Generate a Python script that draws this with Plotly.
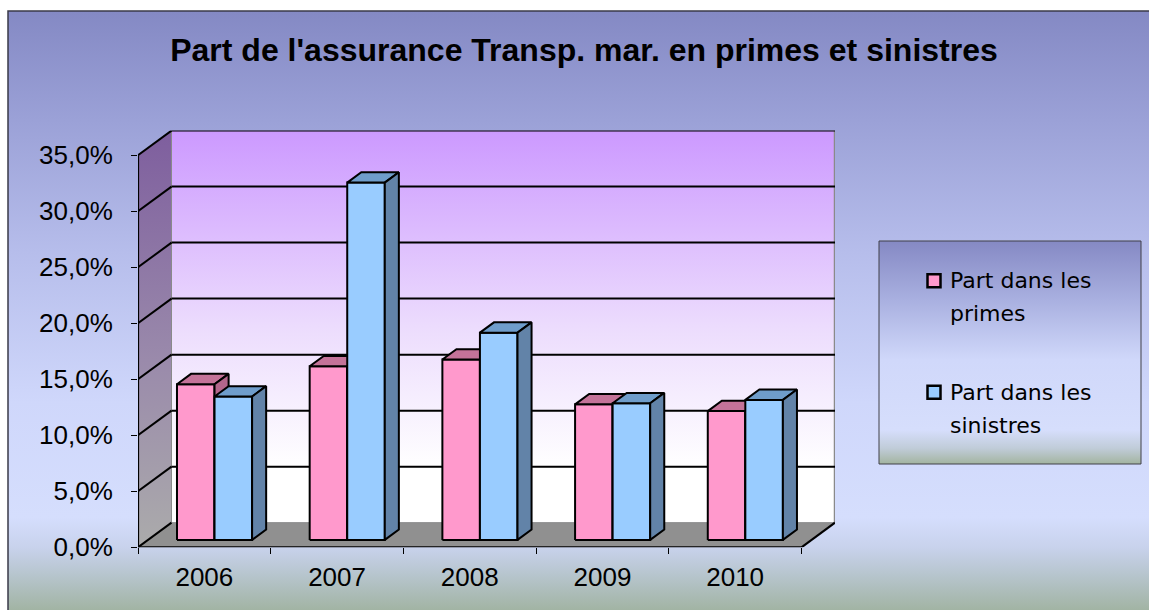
import plotly.graph_objects as go

# ---------------- data ----------------
years = ["2006", "2007", "2008", "2009", "2010"]
primes = [13.9, 15.5, 16.1, 12.1, 11.5]
sinistres = [12.8, 31.9, 18.5, 12.2, 12.5]
series_names = ["Part dans les primes", "Part dans les sinistres"]
y_tick_values = [0, 5, 10, 15, 20, 25, 30, 35]
title_text = "Part de l'assurance Transp. mar. en primes et sinistres"

# ---------------- geometry / style ----------------
W, H = 1149, 610
N = len(years)
YMAX = y_tick_values[-1]
DX, DY = 0.2525, 2.2          # depth of the 3-D box (x in category units, y in %)
F0, F1 = 0.30, 0.72            # bar depth (fraction of box depth)
BW = 0.283                     # bar width (category units)
GROUP_LEFT = 0.218             # left of the first bar inside a category

front_colors = ["#ff99cc", "#99ccff"]
top_colors = ["#c47399", "#6f9dcb"]
side_colors = ["#b3668c", "#6283a8"]
FONT = "Liberation Sans, Arial, sans-serif"

PLOT_L, PLOT_R = 138, 835
PLOT_T, PLOT_B = 130.6, 547.3

fig = go.Figure()


def proj(x, y, d):
    return x + d * DX, y + d * DY


def add_poly(pts, fill=None, line_color="black", line_width=2, grad=None,
             xaxis="x2", yaxis="y2"):
    xs = [p[0] for p in pts] + [pts[0][0]]
    ys = [p[1] for p in pts] + [pts[0][1]]
    kw = dict(x=xs, y=ys, mode="lines", fill="toself", xaxis=xaxis, yaxis=yaxis,
              showlegend=False, hoverinfo="skip",
              line=dict(color=line_color, width=line_width))
    if grad is not None:
        kw["fillgradient"] = dict(type="vertical", colorscale=grad)
    else:
        kw["fillcolor"] = fill
    if line_width == 0:
        kw["mode"] = "none"
    fig.add_trace(go.Scatter(**kw))


def add_lines(segments, color, width, xaxis="x2", yaxis="y2"):
    xs, ys = [], []
    for (a, b) in segments:
        xs += [a[0], b[0], None]
        ys += [a[1], b[1], None]
    fig.add_trace(go.Scatter(x=xs, y=ys, mode="lines", xaxis=xaxis, yaxis=yaxis,
                             line=dict(color=color, width=width),
                             showlegend=False, hoverinfo="skip"))


# ---------------- page background (pixel coordinates on hidden axes) ----------------
bg_top = H - 11
add_poly([(8, -3), (W + 3, -3), (W + 3, bg_top), (8, bg_top)],
         grad=[[0.0, "#a0b2a0"], [0.067, "#b8c6d0"], [0.109, "#c8d2ec"],
               [0.159, "#d5defd"], [0.351, "#cfd7fb"], [0.601, "#b6bdeb"],
               [0.818, "#9ba1d7"], [1.0, "#8489c4"]],
         line_color="#3a3a48", line_width=1.5, xaxis="x", yaxis="y")

# legend box background
lx0, lx1, ly0, ly1 = 879, 1141, H - 464, H - 241
add_poly([(lx0, ly0), (lx1, ly0), (lx1, ly1), (lx0, ly1)],
         grad=[[0.0, "#a3b4a0"], [0.07, "#c0ccd8"], [0.152, "#d6defc"],
               [0.466, "#d0d8fa"], [0.735, "#a9b0e0"], [1.0, "#8589c4"]],
         line_color="#404048", line_width=1, xaxis="x", yaxis="y")

# ---------------- 3-D walls ----------------
# back wall
add_poly([proj(0, 0, 1), proj(N, 0, 1), proj(N, YMAX, 1), proj(0, YMAX, 1)],
         grad=[[0, "#ffffff"], [0.14, "#ffffff"], [0.5, "#ecdcfd"], [1, "#cc99ff"]],
         line_width=0)
# side wall
add_poly([proj(0, 0, 0), proj(0, 0, 1), proj(0, YMAX, 1), proj(0, YMAX, 0)],
         grad=[[0, "#ababab"], [0.45, "#9a8aab"], [1, "#7e5e9e"]],
         line_width=0)
# floor
add_poly([proj(0, 0, 0), proj(N, 0, 0), proj(N, 0, 1), proj(0, 0, 1)],
         fill="#909090", line_width=0)

# back-wall zero line and edges (grey)
add_lines([(proj(0, 0, 1), proj(N, 0, 1)),
           (proj(0, 0, 1), proj(0, YMAX, 1))], "#8a8a8a", 1)
add_lines([(proj(N, 0, 1), proj(N, YMAX, 1))], "#8a8a8a", 2.5)

# gridlines (back wall + side wall)
grid = []
for v in y_tick_values:
    if v > 0:
        grid.append((proj(0, v, 1), proj(N, v, 1)))
    grid.append((proj(0, v, 0), proj(0, v, 1)))
add_lines(grid, "black", 2)

# front edges
add_lines([(proj(0, 0, 0), proj(0, YMAX, 0)),
           (proj(0, 0, 0), proj(N, 0, 0)),
           (proj(N, 0, 0), proj(N, 0, 1))], "black", 2.2)

# ---------------- bars ----------------
for i in range(N):
    for s, vals in enumerate([primes, sinistres]):
        h = vals[i]
        x0 = i + GROUP_LEFT + s * BW
        x1 = x0 + BW
        front = [proj(x0, 0, F0), proj(x1, 0, F0), proj(x1, h, F0), proj(x0, h, F0)]
        top = [proj(x0, h, F0), proj(x1, h, F0), proj(x1, h, F1), proj(x0, h, F1)]
        side = [proj(x1, 0, F0), proj(x1, 0, F1), proj(x1, h, F1), proj(x1, h, F0)]
        add_poly(front, fill=front_colors[s], line_width=2)
        add_poly(top, fill=top_colors[s], line_width=2)
        add_poly(side, fill=side_colors[s], line_width=2)

# ---------------- legend (markers + text) ----------------
legend_rows_y = [280.7, 392.3]
for s, name in enumerate(series_names):
    fig.add_trace(go.Scatter(
        x=[934], y=[H - legend_rows_y[s]], mode="markers", xaxis="x", yaxis="y",
        marker=dict(symbol="square", size=13, color=front_colors[s],
                    line=dict(color="black", width=2.5)),
        showlegend=False, hoverinfo="skip", name=name))
    first, second = name.rsplit(" ", 1)
    for k, line_txt in enumerate([first, second]):
        fig.add_annotation(
            x=948 / W, y=1 - (legend_rows_y[s] + 33 * k) / H, xref="paper", yref="paper",
            text=line_txt, showarrow=False, xanchor="left", yanchor="middle",
            font=dict(family="DejaVu Sans, sans-serif", size=22, color="black"))

y_tick_text = [f"{v:.1f}".replace(".", ",") + "%" for v in y_tick_values]

# ---------------- layout ----------------
fig.update_layout(
    template="none",
    width=W, height=H, autosize=False,
    margin=dict(l=0, r=0, t=0, b=0, pad=0),
    paper_bgcolor="white", plot_bgcolor="rgba(0,0,0,0)",
    showlegend=False,
    title=dict(text="<b>" + title_text + "</b>", x=584 / W, xanchor="center",
               y=1 - 50 / H, yanchor="middle", automargin=False,
               font=dict(family=FONT, size=32, color="black")),
    xaxis=dict(domain=[0, 1], range=[0, W], visible=False, fixedrange=True,
               automargin=False),
    yaxis=dict(domain=[0, 1], range=[0, H], visible=False, fixedrange=True,
               automargin=False),
    xaxis2=dict(domain=[PLOT_L / W, PLOT_R / W], range=[0, N + DX], anchor="y2",
                tickmode="array", tickvals=[i + 0.5 for i in range(N)], ticktext=years,
                ticks="", showgrid=False, zeroline=False, showline=False,
                minor=dict(tickmode="array", tickvals=list(range(N + 1)),
                           ticks="outside", ticklen=6, tickcolor="black", tickwidth=1,
                           showgrid=False),
                ticklabelstandoff=12, automargin=False,
                tickfont=dict(family=FONT, size=26, color="black"), fixedrange=True),
    yaxis2=dict(domain=[(H - PLOT_B) / H, (H - PLOT_T) / H], range=[0, YMAX + DY],
                anchor="x2", tickmode="array", tickvals=y_tick_values,
                ticktext=y_tick_text, ticks="outside", ticklen=6,
                tickcolor="black", tickwidth=1, ticklabelstandoff=13,
                showgrid=False, zeroline=False, showline=False, automargin=False,
                tickfont=dict(family=FONT, size=26, color="black"), fixedrange=True),
)

fig.write_html(
    "out.html",
    config={"displayModeBar": False},
    post_script="document.body.style.margin='0';document.body.style.overflow='hidden';",
)
